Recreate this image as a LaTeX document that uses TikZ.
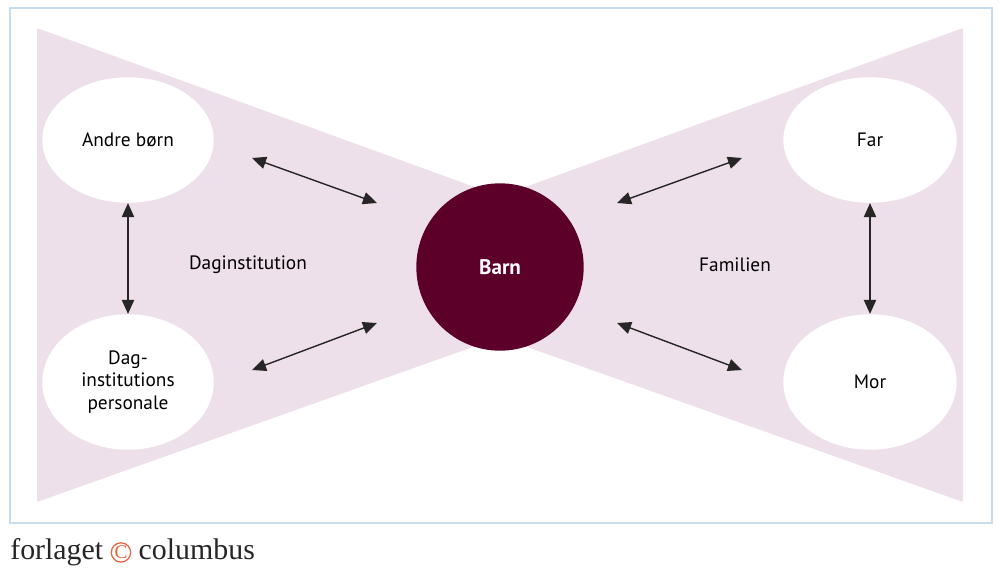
\documentclass[tikz,border=0pt]{standalone}
\usepackage{fontspec}
\setmainfont{PT Sans}
\newfontfamily\logofont{Liberation Serif}
\usetikzlibrary{arrows.meta,shapes.geometric}
\definecolor{bow}{HTML}{EEE0EA}
\definecolor{wine}{HTML}{5C0029}
\definecolor{frame}{HTML}{C9DCEB}
\definecolor{logoc}{HTML}{E8603C}
\begin{document}
\begin{tikzpicture}[x=0.02cm,y=-0.02cm,
  oval/.style={ellipse,fill=white,minimum width=172*0.567pt,minimum height=126*0.567pt,align=center,font=\fontsize{11}{13}\selectfont,inner sep=0pt},
  arr/.style={{Triangle[length=8pt,width=7pt]}-{Triangle[length=8pt,width=7pt]},line width=0.8pt,draw=black!85},
  lbl/.style={font=\fontsize{11}{13}\selectfont}]
\useasboundingbox (0,0) rectangle (1000,572);
\draw[frame,line width=0.8pt] (10,8) rectangle (992,523);
\fill[bow] (37,28) -- (560,218) -- (560,316) -- (37,502) -- cycle;
\fill[bow] (963,28) -- (440,218) -- (440,316) -- (963,502) -- cycle;
\node[oval] (andre) at (128,140) {Andre børn};
\node[oval,minimum height=136*0.567pt] (dag) at (128,382) {Dag-\\institutions\\personale};
\node[oval,minimum width=174*0.567pt] (far) at (870,140) {Far};
\node[oval,minimum width=174*0.567pt,minimum height=136*0.567pt] (mor) at (870,382) {Mor};
\node[circle,fill=wine,minimum size=168*0.567pt,text=white,font=\fontsize{12}{14}\selectfont\bfseries] (barn) at (500,267) {Barn};
\node[lbl] (dinst) at (248,265) {Daginstitution};
\node[lbl] (fam) at (735,265) {Familien};
\coordinate (a1) at (252,158); \coordinate (a2) at (377,203);
\coordinate (b1) at (252,370); \coordinate (b2) at (377,323);
\coordinate (c1) at (617,203); \coordinate (c2) at (742,158);
\coordinate (d1) at (617,323); \coordinate (d2) at (742,370);
\draw[arr] (a1) -- (a2);
\draw[arr] (b1) -- (b2);
\draw[arr] (c1) -- (c2);
\draw[arr] (d1) -- (d2);
\draw[arr] (andre) -- (dag);
\draw[arr] (far) -- (mor);
\node[anchor=west,inner sep=0pt,font=\logofont\fontsize{17}{19}\selectfont,text=black!85] (logo) at (10,552) {forlaget \tikz[baseline=-0.5ex]\node[circle,draw=logoc,line width=0.7pt,inner sep=0pt,minimum size=11pt,text=logoc,font=\logofont\fontsize{11}{11}\selectfont]{C}; columbus};
\end{tikzpicture}
\end{document}
